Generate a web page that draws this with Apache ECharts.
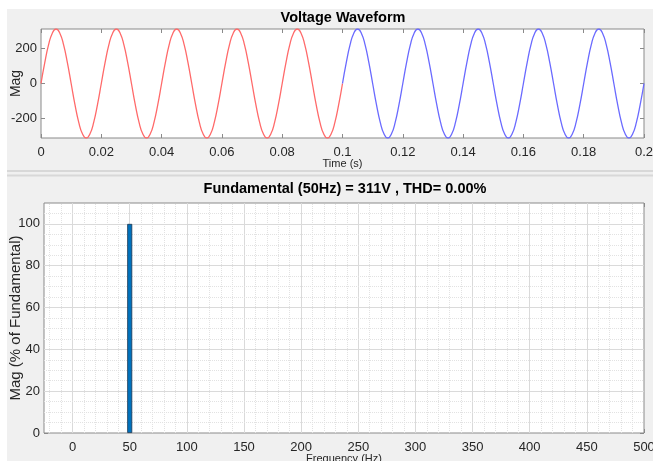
<!DOCTYPE html>
<html><head><meta charset="utf-8">
<script src="https://cdn.jsdelivr.net/npm/echarts@6/dist/echarts.min.js"></script>
<style>html,body{margin:0;padding:0;background:#f0f0f0}#c{width:653px;height:461px}</style>
</head><body><div id="c"></div>
<script>
// ---- Voltage waveform (first half drawn red, second half blue) ----
const timeRed = [
  0, 0.00125, 0.0025, 0.00375, 0.005, 0.00625, 0.0075, 0.00875, 0.01, 0.01125, 0.0125, 0.01375, 0.015, 0.01625, 0.0175, 0.01875,
  0.02, 0.02125, 0.0225, 0.02375, 0.025, 0.02625, 0.0275, 0.02875, 0.03, 0.03125, 0.0325, 0.03375, 0.035, 0.03625, 0.0375, 0.03875,
  0.04, 0.04125, 0.0425, 0.04375, 0.045, 0.04625, 0.0475, 0.04875, 0.05, 0.05125, 0.0525, 0.05375, 0.055, 0.05625, 0.0575, 0.05875,
  0.06, 0.06125, 0.0625, 0.06375, 0.065, 0.06625, 0.0675, 0.06875, 0.07, 0.07125, 0.0725, 0.07375, 0.075, 0.07625, 0.0775, 0.07875,
  0.08, 0.08125, 0.0825, 0.08375, 0.085, 0.08625, 0.0875, 0.08875, 0.09, 0.09125, 0.0925, 0.09375, 0.095, 0.09625, 0.0975, 0.09875,
  0.1
];
const voltageRed = [
  0, 119, 220, 287, 311, 287, 220, 119, 0, -119, -220, -287, -311, -287, -220, -119,
  0, 119, 220, 287, 311, 287, 220, 119, 0, -119, -220, -287, -311, -287, -220, -119,
  0, 119, 220, 287, 311, 287, 220, 119, 0, -119, -220, -287, -311, -287, -220, -119,
  0, 119, 220, 287, 311, 287, 220, 119, 0, -119, -220, -287, -311, -287, -220, -119,
  0, 119, 220, 287, 311, 287, 220, 119, 0, -119, -220, -287, -311, -287, -220, -119,
  0
];
const timeBlue = [
  0.1, 0.10125, 0.1025, 0.10375, 0.105, 0.10625, 0.1075, 0.10875, 0.11, 0.11125, 0.1125, 0.11375, 0.115, 0.11625, 0.1175, 0.11875,
  0.12, 0.12125, 0.1225, 0.12375, 0.125, 0.12625, 0.1275, 0.12875, 0.13, 0.13125, 0.1325, 0.13375, 0.135, 0.13625, 0.1375, 0.13875,
  0.14, 0.14125, 0.1425, 0.14375, 0.145, 0.14625, 0.1475, 0.14875, 0.15, 0.15125, 0.1525, 0.15375, 0.155, 0.15625, 0.1575, 0.15875,
  0.16, 0.16125, 0.1625, 0.16375, 0.165, 0.16625, 0.1675, 0.16875, 0.17, 0.17125, 0.1725, 0.17375, 0.175, 0.17625, 0.1775, 0.17875,
  0.18, 0.18125, 0.1825, 0.18375, 0.185, 0.18625, 0.1875, 0.18875, 0.19, 0.19125, 0.1925, 0.19375, 0.195, 0.19625, 0.1975, 0.19875,
  0.2
];
const voltageBlue = [
  0, 119, 220, 287, 311, 287, 220, 119, 0, -119, -220, -287, -311, -287, -220, -119,
  0, 119, 220, 287, 311, 287, 220, 119, 0, -119, -220, -287, -311, -287, -220, -119,
  0, 119, 220, 287, 311, 287, 220, 119, 0, -119, -220, -287, -311, -287, -220, -119,
  0, 119, 220, 287, 311, 287, 220, 119, 0, -119, -220, -287, -311, -287, -220, -119,
  0, 119, 220, 287, 311, 287, 220, 119, 0, -119, -220, -287, -311, -287, -220, -119,
  0
];
const timeTicks = [0, 0.02, 0.04, 0.06, 0.08, 0.1, 0.12, 0.14, 0.16, 0.18, 0.2];
const voltTicks = [-200, 0, 200];

// ---- Harmonic spectrum ----
const harmonicFreq = [50];
const harmonicMag = [100];
const freqTicks = [0, 50, 100, 150, 200, 250, 300, 350, 400, 450, 500];
const magTicks = [0, 20, 40, 60, 80, 100];

const FONT = 'Liberation Sans, Arial, Helvetica, sans-serif';
const AX = '#8a8a8a';
const LBL = '#262626';

// grid lines for the spectrum panel (major every tick, minor dotted)
const gridLines = [];
for (let v = -20; v <= 490; v += 10) {
  const major = v % 50 === 0;
  gridLines.push({xAxis: v, lineStyle: major ? {color: '#dadada', width: 1, type: 'solid'} : {color: '#e2e2e2', width: 1, type: [1, 1]}});
}
for (let v = 5; v <= 105; v += 5) {
  const major = v % 20 === 0;
  gridLines.push({yAxis: v, lineStyle: major ? {color: '#dadada', width: 1, type: 'solid'} : {color: '#e2e2e2', width: 1, type: [1, 1]}});
}

function mainX(grid, min, max, ticks, name, gap) {
  return {
    gridIndex: grid, type: 'value', min: min, max: max, position: 'bottom',
    axisLine: {show: false, onZero: false},
    axisTick: {show: true, inside: true, length: 4, customValues: ticks, lineStyle: {color: AX}},
    axisLabel: {customValues: ticks, fontSize: 13, color: LBL, fontFamily: FONT, margin: 8, showMaxLabel: true, showMinLabel: true},
    splitLine: {show: false},
    name: name, nameLocation: 'middle', nameGap: gap, nameMoveOverlap: false,
    nameTextStyle: {fontSize: 11, color: LBL, fontFamily: FONT}
  };
}
function mirrorX(grid, min, max, ticks) {
  return {
    gridIndex: grid, type: 'value', min: min, max: max, position: 'top',
    axisLine: {show: false, onZero: false},
    axisTick: {show: true, inside: true, length: 4, customValues: ticks, lineStyle: {color: AX}},
    axisLabel: {show: false}, splitLine: {show: false}
  };
}
function mainY(grid, min, max, ticks, name, gap, fs) {
  return {
    gridIndex: grid, type: 'value', min: min, max: max, position: 'left',
    axisLine: {show: false, onZero: false},
    axisTick: {show: true, inside: true, length: 4, customValues: ticks, lineStyle: {color: AX}},
    axisLabel: {customValues: ticks, fontSize: 13, color: LBL, fontFamily: FONT, margin: 4},
    splitLine: {show: false},
    name: name, nameLocation: 'middle', nameGap: gap, nameRotate: 90, nameMoveOverlap: false,
    nameTextStyle: {fontSize: fs, color: LBL, fontFamily: FONT}
  };
}
function mirrorY(grid, min, max, ticks) {
  return {
    gridIndex: grid, type: 'value', min: min, max: max, position: 'right',
    axisLine: {show: false, onZero: false},
    axisTick: {show: true, inside: true, length: 4, customValues: ticks, lineStyle: {color: AX}},
    axisLabel: {show: false}, splitLine: {show: false}
  };
}

const chart = echarts.init(document.getElementById('c'), null, {renderer: 'canvas'});
chart.setOption({
  animation: false,
  backgroundColor: '#f0f0f0',
  graphic: [
    {type: 'rect', shape: {x: 0, y: 0, width: 653, height: 9}, style: {fill: '#ffffff'}, z: -10},
    {type: 'rect', shape: {x: 0, y: 0, width: 7, height: 461}, style: {fill: '#ffffff'}, z: -10},
    {type: 'rect', shape: {x: 7, y: 170, width: 646, height: 2}, style: {fill: '#d8d8d8'}, z: -10},
    {type: 'rect', shape: {x: 7, y: 174.5, width: 646, height: 2}, style: {fill: '#d8d8d8'}, z: -10}
  ],
  title: [
    {text: 'Voltage Waveform', left: 343, top: 10.5, textAlign: 'center', padding: 0,
     textStyle: {fontSize: 14.5, fontWeight: 'bold', color: '#000', fontFamily: FONT}},
    {text: 'Fundamental (50Hz) = 311V , THD= 0.00%', left: 345, top: 181, textAlign: 'center', padding: 0,
     textStyle: {fontSize: 14.5, fontWeight: 'bold', color: '#000', fontFamily: FONT}}
  ],
  grid: [
    {left: 41, top: 29, width: 603, height: 109, show: true, containLabel: false, outerBoundsMode: 'none',
     backgroundColor: '#ffffff', borderColor: AX, borderWidth: 1},
    {left: 44, top: 203, width: 600, height: 230, show: true, containLabel: false, outerBoundsMode: 'none',
     backgroundColor: '#ffffff', borderColor: AX, borderWidth: 1}
  ],
  xAxis: [
    mainX(0, 0, 0.2, timeTicks, 'Time (s)', 20),
    mirrorX(0, 0, 0.2, timeTicks),
    mainX(1, -25, 500, freqTicks, 'Frequency (Hz)', 20),
    mirrorX(1, -25, 500, freqTicks)
  ],
  yAxis: [
    mainY(0, -311, 311, voltTicks, 'Mag', 18, 14),
    mirrorY(0, -311, 311, voltTicks),
    mainY(1, 0, 110, magTicks, 'Mag (% of Fundamental)', 21, 15),
    mirrorY(1, 0, 110, magTicks)
  ],
  series: [
    {type: 'line', xAxisIndex: 0, yAxisIndex: 0, data: timeRed.map((t, i) => [t, voltageRed[i]]),
     smooth: true, showSymbol: false, lineStyle: {color: '#ff6a6a', width: 1.3}, z: 3},
    {type: 'line', xAxisIndex: 0, yAxisIndex: 0, data: timeBlue.map((t, i) => [t, voltageBlue[i]]),
     smooth: true, showSymbol: false, lineStyle: {color: '#6a6aff', width: 1.3}, z: 3},
    {type: 'bar', xAxisIndex: 2, yAxisIndex: 2, data: harmonicFreq.map((f, i) => [f, harmonicMag[i]]),
     barWidth: 5, itemStyle: {color: '#0072bd', borderColor: '#1b3550', borderWidth: 0.8}, z: 3,
     markLine: {silent: true, symbol: 'none', z: 1, label: {show: false}, data: gridLines}}
  ]
});
</script>
</body></html>
